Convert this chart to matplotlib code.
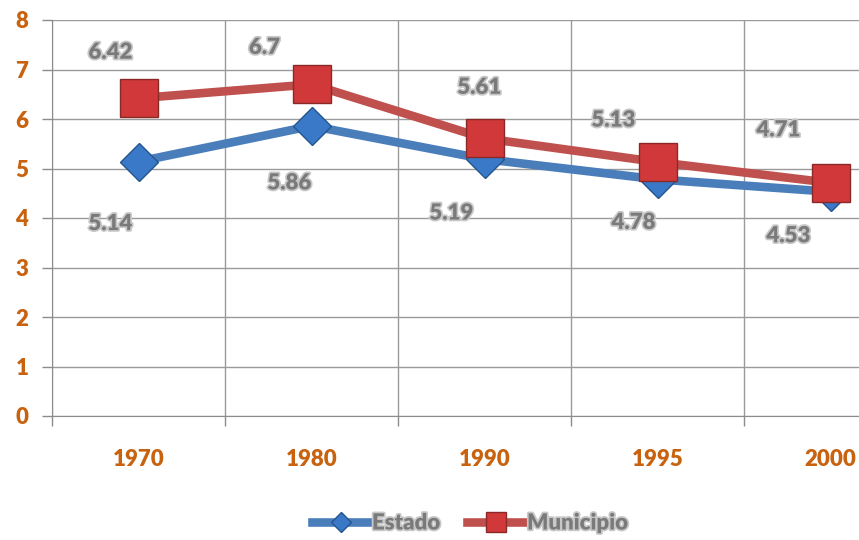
import matplotlib.pyplot as plt
import matplotlib.patheffects as pe

years = ["1970", "1980", "1990", "1995", "2000"]
estado = [5.14, 5.86, 5.19, 4.78, 4.53]
municipio = [6.42, 6.7, 5.61, 5.13, 4.71]

# label offsets in pixels (dx, dy) relative to each point
est_off = [(-28, -62), (-22, -57), (-33, -54), (-24, -43), (-42, -44)]
mun_off = [(-28, 46), (-47, 37), (-5, 51), (-44, 42), (-52, 53)]

plt.rcParams['font.family'] = ['Lato', 'DejaVu Sans']

fig = plt.figure(figsize=(8.59, 5.40), dpi=100)
# plot area runs past the right edge of the picture
ax = fig.add_axes([52 / 859, 124 / 540, 865 / 859, 396 / 540])

x = list(range(len(years)))
blue, red = '#4a7ebb', '#c0504d'
ax.plot(x, estado, color=blue, lw=6.2, marker='D', ms=19,
        mfc='#3a78c8', mec='#25558f', mew=1, label='Estado', zorder=3)
ax.plot(x, municipio, color=red, lw=6.2, marker='s', ms=27,
        mfc='#d0383a', mec='#8a2a28', mew=1, label='Municipio', zorder=4)

lbl_fx = [pe.withStroke(linewidth=2.5, foreground='#c8c8c8')]
for i in x:
    ax.annotate(f"{estado[i]:g}", (i, estado[i]), xytext=est_off[i],
                textcoords='offset pixels', ha='center', va='center',
                fontsize=16, fontweight='heavy', color='#7a7a7a',
                path_effects=lbl_fx, zorder=5)
    ax.annotate(f"{municipio[i]:g}", (i, municipio[i]), xytext=mun_off[i],
                textcoords='offset pixels', ha='center', va='center',
                fontsize=16, fontweight='heavy', color='#7a7a7a',
                path_effects=lbl_fx, zorder=5)

ax.set_xlim(-0.5, len(years) - 0.5)
ax.set_ylim(0, 8)
ax.set_yticks(range(9))
ax.set_xticks(x)
ax.set_xticklabels(years)
ax.set_xticks([i - 0.5 for i in range(len(years) + 1)], minor=True)
ax.tick_params(axis='x', which='major', length=0, pad=24)
ax.tick_params(axis='x', which='minor', length=7, color='#8c8c8c', width=1)
ax.tick_params(axis='y', length=7, color='#8c8c8c', width=1, pad=10)
for lab in ax.get_xticklabels() + ax.get_yticklabels():
    lab.set_color('#c8620f')
    lab.set_fontweight('heavy')
    lab.set_fontsize(16)

ax.grid(True, which='minor', axis='x', color='#9a9a9a', lw=1)
ax.grid(True, which='major', axis='y', color='#9a9a9a', lw=1)
ax.set_axisbelow(True)
for s in ['top', 'right']:
    ax.spines[s].set_visible(False)
for s in ['left', 'bottom']:
    ax.spines[s].set_color('#8c8c8c')

leg = fig.legend(loc='center', bbox_to_anchor=(470 / 859, 1 - 523 / 540),
                 ncol=2, frameon=False, fontsize=16, handlelength=2.6,
                 columnspacing=1.2, handletextpad=0.1, markerscale=0.55)
for t in leg.get_texts():
    t.set_color('#7a7a7a')
    t.set_fontweight('heavy')
    t.set_path_effects(lbl_fx)

fig.savefig('out.png', dpi=100)
